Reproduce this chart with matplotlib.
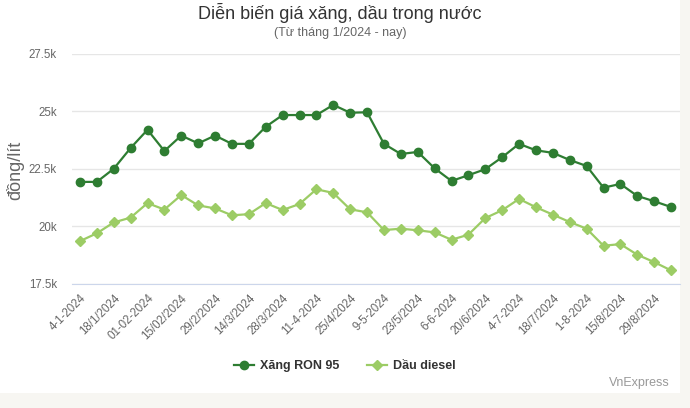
import matplotlib
matplotlib.use("Agg")
import matplotlib.pyplot as plt
from matplotlib.patches import Rectangle

plt.rcParams['font.family'] = ['Liberation Sans', 'DejaVu Sans']

# nhãn trục x (mỗi 2 kỳ điều chỉnh)
nhan_ngay = ["4-1-2024", "18/1/2024", "01-02-2024", "15/02/2024", "29/2/2024",
             "14/3/2024", "28/3/2024", "11-4-2024", "25/4/2024", "9-5-2024",
             "23/5/2024", "6-6-2024", "20/6/2024", "4-7-2024", "18/7/2024",
             "1-8-2024", "15/8/2024", "29/8/2024"]

# giá (đồng/lít) theo từng kỳ
xang_ron95 = [21930, 21930, 22500, 23400, 24190, 23270, 23940, 23600, 23940,
              23580, 23580, 24320, 24830, 24830, 24830, 25270, 24930, 24950,
              23580, 23140, 23230, 22520, 21970, 22220, 22480, 23000, 23580,
              23300, 23190, 22880, 22620, 21680, 21840, 21320, 21090, 20840]
dau_diesel = [19360, 19700, 20170, 20380, 21010, 20730, 21360, 20910, 20780,
              20480, 20530, 21010, 20710, 20970, 21610, 21450, 20740, 20610,
              19840, 19900, 19830, 19740, 19420, 19640, 20360, 20700, 21190,
              20830, 20510, 20190, 19900, 19160, 19230, 18770, 18450, 18090]

y_ticks = [17500, 20000, 22500, 25000, 27500]
y_labels = ["17.5k", "20k", "22.5k", "25k", "27.5k"]

mau_xang = "#2e7d32"
mau_dau = "#9ccc65"

fig = plt.figure(figsize=(6.9, 4.08), dpi=100)
fig.patch.set_facecolor("#f7f6f2")
nen = Rectangle((0, 15 / 408), 680 / 690, 1 - 15 / 408,
                transform=fig.transFigure, facecolor="white",
                edgecolor="none", zorder=-10)
fig.add_artist(nen)

ax = fig.add_axes([71.5 / 690, 1 - 284 / 408, 608 / 690, 230.5 / 408])
ax.set_facecolor("none")

x = list(range(len(xang_ron95)))
ax.plot(x, xang_ron95, color=mau_xang, lw=1.6, marker="o", markersize=6,
        label="Xăng RON 95", zorder=3)
ax.plot(x, dau_diesel, color=mau_dau, lw=1.6, marker="D", markersize=4.8,
        label="Dầu diesel", zorder=3)

ax.set_xlim(-0.5, len(x) - 0.5)
ax.set_ylim(17500, 27500)
ax.set_yticks(y_ticks)
ax.set_yticklabels(y_labels)
ax.set_xticks(x[::2])
ax.set_xticklabels(nhan_ngay, rotation=45, ha="right", rotation_mode="anchor")
ax.tick_params(axis="both", length=0, labelsize=8.3, colors="#666666")
ax.tick_params(axis="y", pad=10.5)
ax.tick_params(axis="x", pad=6)
ax.grid(axis="y", color="#e6e6e6", lw=1)
for s in ["top", "right", "left"]:
    ax.spines[s].set_visible(False)
ax.spines["bottom"].set_color("#ccd6eb")
ax.set_axisbelow(True)

fig.text(15 / 690, 1 - 170 / 408, "đồng/lít", rotation=90, fontsize=13,
         color="#666666", ha="center", va="center")
fig.text(340 / 690, 1 - 13 / 408, "Diễn biến giá xăng, dầu trong nước",
         fontsize=13, color="#333333", ha="center", va="center")
fig.text(340 / 690, 1 - 33 / 408, "(Từ tháng 1/2024 - nay)",
         fontsize=9, color="#666666", ha="center", va="center")
fig.text(670 / 690, 1 - 383 / 408, "VnExpress", fontsize=9, color="#999999",
         ha="right", va="center")

fig.legend(loc="center", bbox_to_anchor=(345 / 690, 1 - 366 / 408), ncol=2,
           frameon=False, prop={"weight": "bold", "size": 9},
           handlelength=1.6, columnspacing=2.2, handletextpad=0.5,
           labelcolor="#333333")

fig.savefig("out.png", dpi=100)
